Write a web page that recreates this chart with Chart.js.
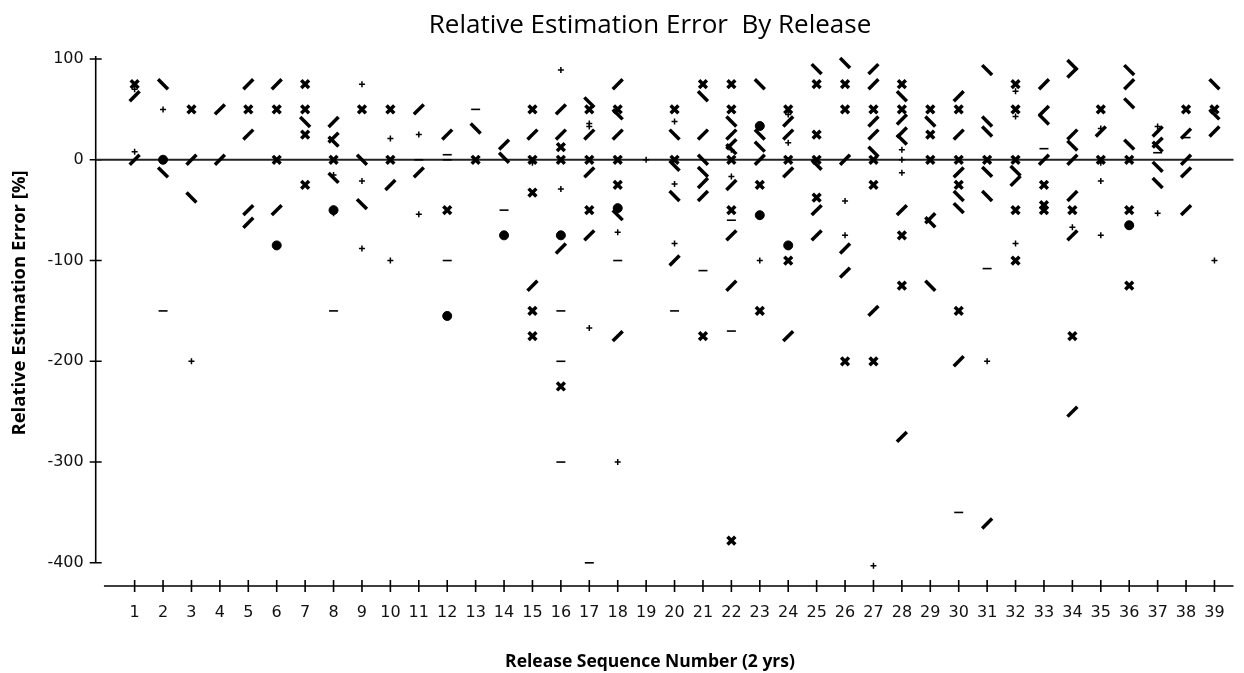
<!DOCTYPE html>
<html>
<head>
<meta charset="utf-8">
<script src="https://cdn.jsdelivr.net/npm/chart.js@4.4.1/dist/chart.umd.min.js"></script>
<style>
  html, body { margin: 0; padding: 0; background: #fff; }
  #wrap { width: 1244px; height: 673px; }
</style>
</head>
<body>
<div id="wrap"><canvas id="errChart" width="1244" height="673"></canvas></div>
<script>
// release numbers on the x axis
const releases = Array.from({ length: 39 }, (_, i) => i + 1);
const yTicks = [100, 0, -100, -200, -300, -400];

// [release, relative error %], one list per marker shape
const crossPts = [
  [1, 75], [3, 50], [5, 50], [6, 50], [6, 0], [7, 75], [7, 50], [7, 25], [7, -25], [8, 0], [9, 50], [10, 50], [10, 0],
  [12, -50], [13, 0], [15, 50], [15, 0], [15, -32.5], [15, -150], [15, -175], [16, 12.5], [16, 0], [16, -225],
  [17, 50], [17, 0], [17, -50], [18, 50], [18, 0], [18, -25], [20, 50], [20, 0], [21, 75], [21, -175],
  [22, 75], [22, 50], [22, 0], [22, -50], [22, -378], [23, -25], [23, -150], [24, 50], [24, 0], [24, -100],
  [25, 75], [25, 25], [25, 0], [25, -37.5], [26, 75], [26, 50], [26, -200], [27, 50], [27, 0], [27, -25], [27, -200],
  [28, 75], [28, 50], [28, -75], [28, -125], [29, 50], [29, 25], [29, 0], [30, 50], [30, 0], [30, -25], [30, -150],
  [31, 0], [32, 75], [32, 50], [32, 0], [32, -50], [32, -100], [33, -25], [33, -45], [33, -50], [34, -50], [34, -175],
  [35, 50], [35, 0], [36, 0], [36, -50], [36, -125], [38, 50], [39, 50]
];
const slashPts = [
  [1, 63], [1, 0], [3, 0], [4, 50], [4, 0], [5, 75], [5, 25], [5, -50], [5, -62.5], [6, 75], [6, -50], [8, 37.5], [8, 22], [10, -25],
  [11, 50], [11, -12.5], [12, 25], [14, 15], [15, 25], [15, -125], [16, 50], [16, 25], [16, -88], [17, 25], [17, -12.5], [17, -75],
  [18, 75], [18, 25], [18, -175], [20, -100], [21, 25], [21, -23], [21, -36], [22, 25], [22, 15.5], [22, -25], [22, -75], [22, -125],
  [23, 0], [24, 38], [24, 25], [24, -12.5], [24, -175], [25, -50], [25, -75], [26, 0], [26, -88], [26, -112],
  [27, 90], [27, 75], [27, 38], [27, 25], [27, -150], [28, 40], [28, 27], [28, -50], [28, -275], [29, -58],
  [30, 63], [30, 25], [30, -12.5], [30, -200], [31, -361], [32, -21], [33, 75], [33, 48.5], [33, 0],
  [34, 86.5], [34, 25], [34, 0], [34, -36], [34, -75], [34, -250], [35, 28], [36, 75], [37, 28], [37, 17],
  [38, 26], [38, 0], [38, -12.5], [38, -50], [39, 28]
];
const backslashPts = [
  [2, 75], [2, -12.5], [3, -37.5], [7, 37.5], [8, 18], [8, -18], [9, 0], [9, -44], [13, 31], [14, 2], [17, 57], [18, 45], [18, -55],
  [20, 25], [20, -6], [20, -36], [21, 63], [21, 0], [21, -12], [22, 38], [22, 10.5], [23, 75], [23, 25], [23, 13],
  [25, 90], [25, -5], [26, 96], [27, 8], [28, 63], [28, 20], [29, 38], [29, -62], [29, -125], [30, -36], [30, -48],
  [31, 89], [31, 38], [31, 28], [31, -12], [31, -36], [32, -11], [33, 40], [34, 94], [34, 14],
  [36, 89], [36, 56], [36, 15], [37, 13], [37, -7], [37, -23], [39, 75], [39, 45]
];
const plusPts = [
  [1, 70], [1, 8], [2, 50], [3, -200], [8, -15], [8, -53], [9, 75], [9, -21], [9, -88], [10, 21], [10, -100], [11, 25], [11, -54],
  [15, -3], [16, 89], [16, -29], [17, 36], [17, 33], [17, -167], [18, -72], [18, -300], [19, 0], [20, 38], [20, -24], [20, -83],
  [22, 10], [22, -16.5], [23, -100], [24, 45], [24, 17], [26, -41], [26, -75], [27, -403], [28, 10], [28, 0], [28, -13], [31, -200],
  [32, 68], [32, 43], [32, -83], [34, -67], [35, 31], [35, -3], [35, -21], [35, -75], [37, 33], [37, -53], [39, -100]
];
const dashPts = [
  [2, -150], [8, -150], [11, 0], [12, 5], [12, 0], [12, -100], [13, 50], [14, -50], [16, -150], [16, -200], [16, -300], [17, -400],
  [18, -100], [20, -150], [21, -110], [22, -60], [22, -170], [30, -350], [31, -108], [33, 11], [37, 7], [38, 22]
];
const dotPts = [
  [2, 0], [6, -85], [8, -50], [12, -155], [14, -75], [16, -75], [18, -48], [23, 33.5], [23, -55], [24, -85], [36, -65]
];

const toXY = list => list.map(p => ({ x: p[0], y: p[1] }));

function marker(label, list, style, radius, width, rotation) {
  return {
    label: label,
    data: toXY(list),
    pointStyle: style,
    pointRadius: radius,
    pointBorderWidth: width,
    pointRotation: rotation || 0,
    pointBorderColor: '#000',
    pointBackgroundColor: '#000',
    clip: false
  };
}

const tickFont = { family: '"DejaVu Sans", sans-serif', style: 'condensed', size: 16 };

// axis lines, cross ticks, zero line and the titles
const frame = {
  id: 'frame',
  beforeDatasetsDraw(chart) {
    const { ctx, chartArea, scales } = chart;
    const x = scales.x, y = scales.y;
    ctx.save();
    ctx.strokeStyle = '#000';
    ctx.lineWidth = 1.6;
    ctx.beginPath();
    // y axis
    ctx.moveTo(chartArea.left, y.getPixelForValue(yTicks[0]) - 3);
    ctx.lineTo(chartArea.left, y.getPixelForValue(yTicks[yTicks.length - 1]));
    yTicks.forEach(v => {
      const py = y.getPixelForValue(v);
      ctx.moveTo(chartArea.left - 6, py);
      ctx.lineTo(chartArea.left + 6, py);
    });
    // x axis
    ctx.moveTo(x.getPixelForValue(-0.08), chartArea.bottom);
    ctx.lineTo(chartArea.right, chartArea.bottom);
    releases.forEach(r => {
      const px = x.getPixelForValue(r);
      ctx.moveTo(px, chartArea.bottom - 6);
      ctx.lineTo(px, chartArea.bottom + 6);
    });
    ctx.stroke();
    // zero line
    ctx.strokeStyle = '#222';
    ctx.lineWidth = 1.8;
    ctx.beginPath();
    const y0 = y.getPixelForValue(0);
    ctx.moveTo(chartArea.left, y0);
    ctx.lineTo(chartArea.right, y0);
    ctx.stroke();
    ctx.restore();
  },
  afterDraw(chart) {
    const ctx = chart.ctx;
    const y = chart.scales.y;
    const cx = chart.width / 2 + 28;
    ctx.save();
    ctx.fillStyle = '#000';
    ctx.textAlign = 'center';
    ctx.font = '26px "Open Sans", sans-serif';
    ctx.textBaseline = 'alphabetic';
    ctx.fillText('Relative Estimation Error  By Release', cx, 33);
    ctx.font = 'bold 17.5px "Open Sans", sans-serif';
    ctx.textBaseline = 'middle';
    ctx.fillText('Release Sequence Number (2 yrs)', cx, 662);
    const my = (y.getPixelForValue(yTicks[0]) + y.getPixelForValue(yTicks[yTicks.length - 1])) / 2 - 8;
    ctx.translate(20, my);
    ctx.rotate(-Math.PI / 2);
    ctx.font = 'bold 18.5px "Open Sans", sans-serif';
    ctx.fillText('Relative Estimation Error [%]', 0, 0);
    ctx.restore();
  }
};

new Chart(document.getElementById('errChart'), {
  type: 'scatter',
  data: {
    datasets: [
      marker('x', crossPts, 'crossRot', 5.5, 3.5),
      marker('/', slashPts, 'line', 7, 3.5, -45),
      marker('\\', backslashPts, 'line', 7, 3.5, 45),
      marker('+', plusPts, 'cross', 3, 1.5),
      marker('-', dashPts, 'line', 4.5, 1.6),
      marker('o', dotPts, 'circle', 4.5, 1)
    ]
  },
  options: {
    responsive: false,
    animation: false,
    events: [],
    layout: { padding: { top: 59, right: 0, bottom: 0, left: 0 } },
    plugins: {
      legend: { display: false },
      tooltip: { enabled: false },
      title: { display: false }
    },
    scales: {
      x: {
        type: 'linear',
        min: -0.37,
        max: 39.67,
        afterFit(s) { s.height = 87; },
        afterBuildTicks(s) { s.ticks = releases.map(v => ({ value: v })); },
        grid: { display: false },
        border: { display: false },
        ticks: { color: '#111', font: tickFont, padding: 9, maxRotation: 0, autoSkip: false }
      },
      y: {
        min: -423,
        max: 100,
        afterFit(s) { s.width = 95.7; },
        afterBuildTicks(s) { s.ticks = yTicks.map(v => ({ value: v })); },
        grid: { display: false },
        border: { display: false },
        ticks: { color: '#111', font: tickFont, padding: 4 }
      }
    }
  },
  plugins: [frame]
});
</script>
</body>
</html>
